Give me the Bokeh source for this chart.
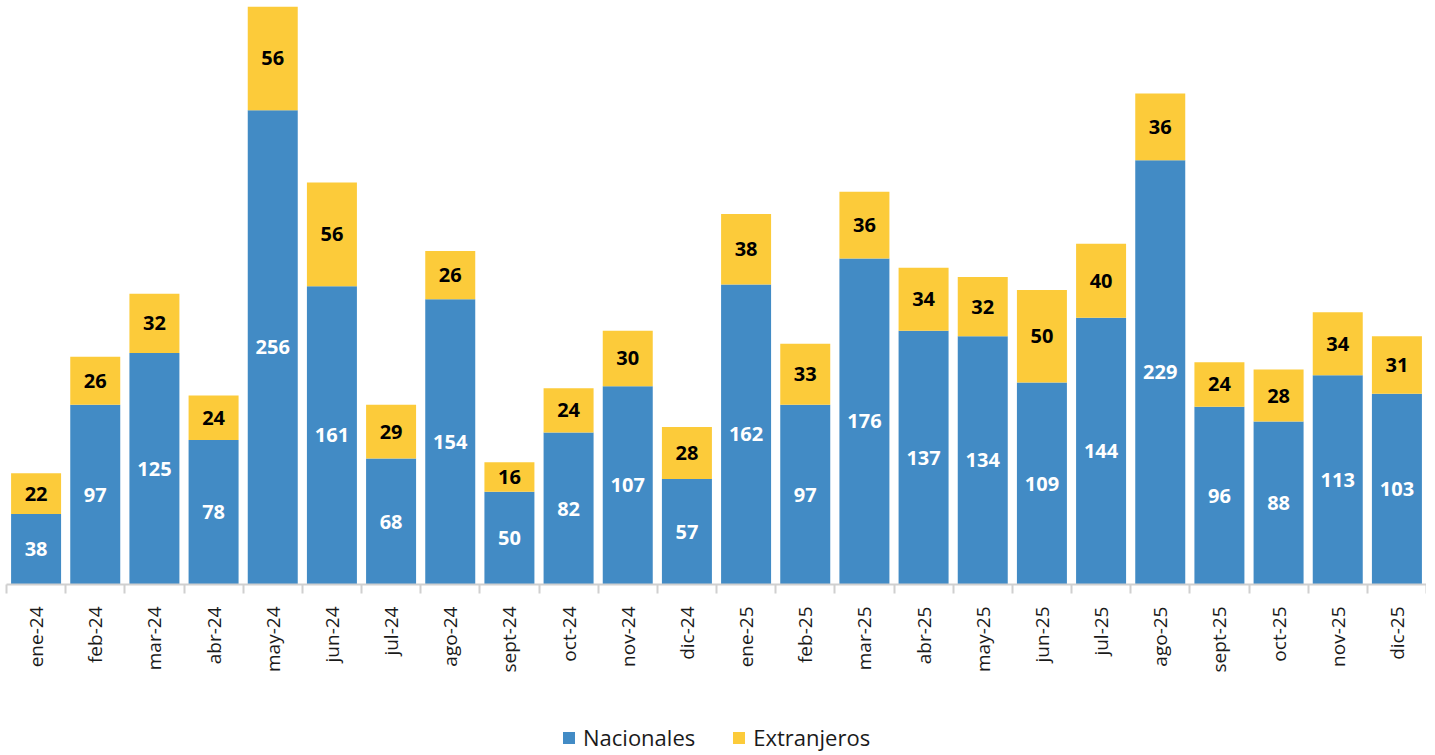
import math
from bokeh.plotting import figure
from bokeh.layouts import column
from bokeh.models import (ColumnDataSource, Range1d, FixedTicker, Legend, LegendItem)
from bokeh.core.properties import value
from bokeh.embed import file_html
from bokeh.resources import INLINE

meses = ["ene-24", "feb-24", "mar-24", "abr-24", "may-24", "jun-24", "jul-24", "ago-24",
         "sept-24", "oct-24", "nov-24", "dic-24", "ene-25", "feb-25", "mar-25", "abr-25",
         "may-25", "jun-25", "jul-25", "ago-25", "sept-25", "oct-25", "nov-25", "dic-25"]
nacionales = [38, 97, 125, 78, 256, 161, 68, 154, 50, 82, 107, 57,
              162, 97, 176, 137, 134, 109, 144, 229, 96, 88, 113, 103]
extranjeros = [22, 26, 32, 24, 56, 56, 29, 26, 16, 24, 30, 28,
               38, 33, 36, 34, 32, 50, 40, 36, 24, 28, 34, 31]
series = ["Nacionales", "Extranjeros"]

BLUE = "#428BC5"
YELLOW = "#FCCB3A"
FONT = "Open Sans"

n = len(meses)
xs = [i + 0.5 for i in range(n)]
src = ColumnDataSource(dict(
    x=xs, nac=nacionales, ext=extranjeros,
    nac_mid=[v / 2 for v in nacionales],
    ext_mid=[a + b / 2 for a, b in zip(nacionales, extranjeros)],
    nac_txt=[str(v) for v in nacionales],
    ext_txt=[str(v) for v in extranjeros],
))

top = max(a + b for a, b in zip(nacionales, extranjeros))

W = 1426
p = figure(width=W, height=680, x_range=Range1d(0, n), y_range=Range1d(0, top),
           output_backend="svg", toolbar_location=None,
           min_border_left=6, min_border_right=0, min_border_top=6, min_border_bottom=96)
p.outline_line_color = None
p.grid.visible = False
p.yaxis.visible = False

rs = p.vbar_stack(["nac", "ext"], x="x", width=0.845, color=[BLUE, YELLOW],
                  line_color=None, source=src)

p.text(x="x", y="nac_mid", text="nac_txt", source=src, text_color="white",
       text_font=value(FONT), text_font_style="bold", text_font_size="20px",
       text_align="center", text_baseline="middle")
p.text(x="x", y="ext_mid", text="ext_txt", source=src, text_color="black",
       text_font=value(FONT), text_font_style="bold", text_font_size="20px",
       text_align="center", text_baseline="middle")

ax = p.xaxis[0]
ax.ticker = FixedTicker(ticks=xs, minor_ticks=list(range(n + 1)))
ax.major_label_overrides = {x: m for x, m in zip(xs, meses)}
ax.major_label_orientation = math.pi / 2
ax.major_label_text_font = FONT
ax.major_label_text_font_size = "19px"
ax.major_label_text_color = "#1a1a1a"
ax.major_label_standoff = 13
ax.major_tick_out = 0
ax.major_tick_in = 0
ax.minor_tick_out = 9
ax.minor_tick_in = 0
ax.minor_tick_line_color = "#D0D0D0"
ax.minor_tick_line_width = 2
ax.axis_line_color = "#D0D0D0"
ax.axis_line_width = 2

# Legend in a separate strip below the chart
lg = figure(width=W, height=73, x_range=Range1d(0, 1), y_range=Range1d(0, 1),
            output_backend="svg", toolbar_location=None,
            min_border_left=0, min_border_right=0, min_border_top=0, min_border_bottom=0)
lg.outline_line_color = None
lg.grid.visible = False
lg.axis.visible = False
dummy = ColumnDataSource(dict(x=[-5.0], top=[-5.0]))
r1 = lg.vbar(x="x", top="top", width=0.1, color=BLUE, line_color=None, source=dummy)
r2 = lg.vbar(x="x", top="top", width=0.1, color=YELLOW, line_color=None, source=dummy)
legend = Legend(items=[LegendItem(label=series[0], renderers=[r1]),
                       LegendItem(label=series[1], renderers=[r2])],
                orientation="horizontal", location=(555, 1),
                label_text_font=FONT, label_text_font_size="22px",
                label_text_color="#1a1a1a",
                glyph_width=15, glyph_height=15, label_standoff=7, spacing=36,
                border_line_color=None, background_fill_alpha=0,
                margin=0, padding=2)
lg.add_layout(legend, "center")

layout = column(p, lg, spacing=0)
open("out.html", "w").write(file_html(layout, INLINE))
